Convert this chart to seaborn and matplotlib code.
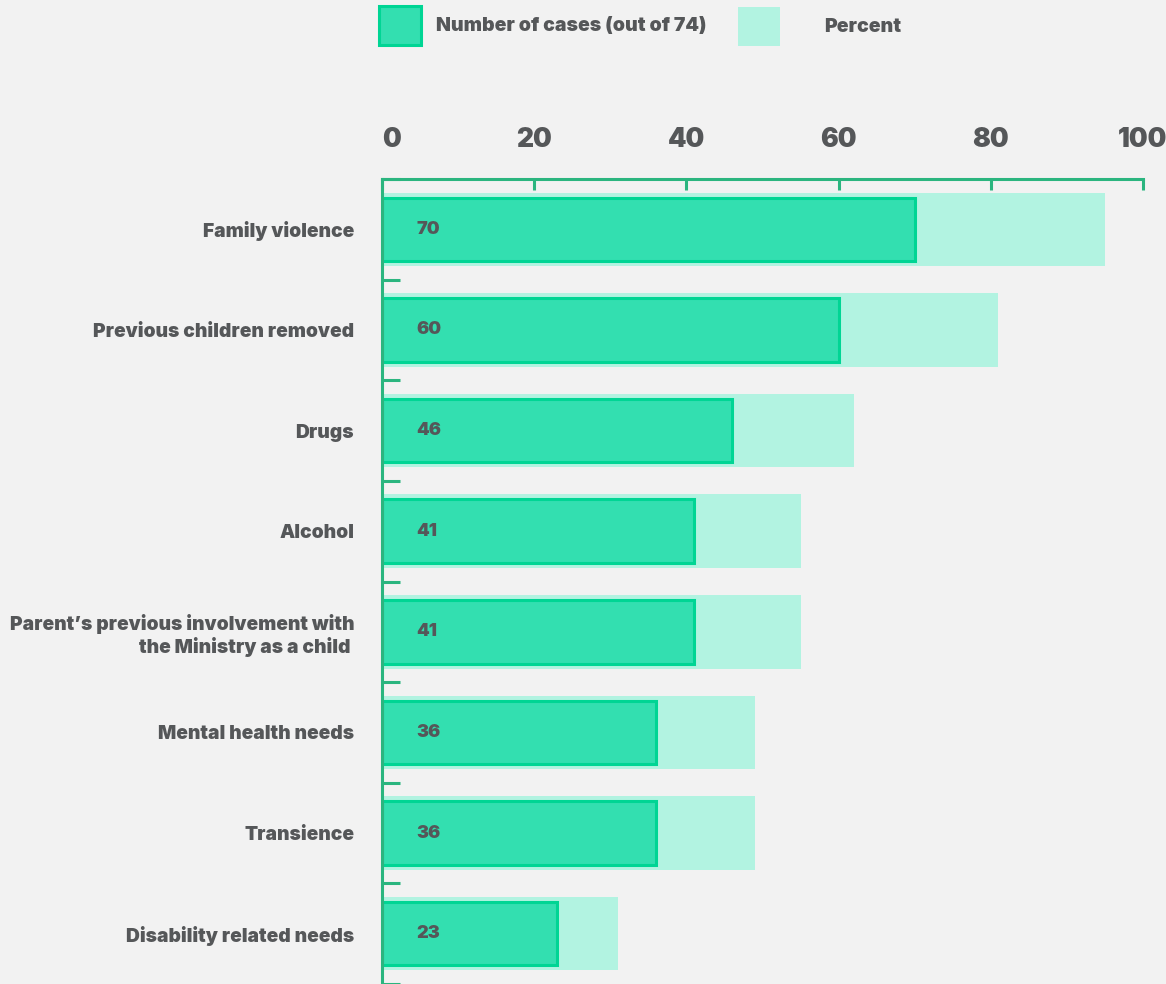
import matplotlib
matplotlib.use("Agg")
import matplotlib.pyplot as plt
from matplotlib.patches import Patch
import seaborn as sns
import pandas as pd

categories = [
    "Family violence",
    "Previous children removed",
    "Drugs",
    "Alcohol",
    "Parent\u2019s previous involvement with\nthe Ministry as a child ",
    "Mental health needs",
    "Transience",
    "Disability related needs",
]
cases = [70, 60, 46, 41, 41, 36, 36, 23]
percent = [95, 81, 62, 55, 55, 49, 49, 31]
x_ticks = [0, 20, 40, 60, 80, 100]
legend_labels = ["Number of cases (out of 74)", "Percent"]

BG = "#f2f2f2"
DARK = "#33dfb0"
EDGE = "#00d594"
LIGHT = "#b2f3e1"
AXIS = "#2bb57f"
TEXT = "#555759"
W = 900

sns.set_style("white")
plt.rcParams["font.family"] = ["Inter", "DejaVu Sans"]

df = pd.DataFrame({"category": categories, "cases": cases, "percent": percent})

fig = plt.figure(figsize=(11.66, 9.84), dpi=100, facecolor=BG)
ax = fig.add_axes([382 / 1166, 0, 761 / 1166, 1 - 179 / 984])
ax.set_facecolor(BG)

sns.barplot(data=df, x="percent", y="category", orient="h", color=LIGHT,
            saturation=1, width=0.73, ax=ax, linewidth=0)
sns.barplot(data=df, x="cases", y="category", orient="h", color=DARK,
            saturation=1, width=0.63, ax=ax, edgecolor=EDGE, linewidth=2.2)

for i, v in enumerate(cases):
    ax.annotate(str(v), xy=(0, i), xytext=(25, 0), textcoords="offset points",
                ha="left", va="center", fontsize=13, fontweight=W, color=TEXT)

ax.set_xlim(0, 100)
ax.set_ylim(len(categories) - 0.5, -0.5)
ax.set_xlabel("")
ax.set_ylabel("")

for s in ["right", "bottom"]:
    ax.spines[s].set_visible(False)
for s in ["left", "top"]:
    ax.spines[s].set_color(AXIS)
    ax.spines[s].set_linewidth(2.2)

ax.xaxis.tick_top()
ax.set_xticks(x_ticks)
ax.set_xticklabels([str(t) for t in x_ticks])
ax.set_xticks([100], minor=True)
ax.tick_params(axis="x", which="major", top=True, direction="in", length=8,
               width=2.2, color=AXIS, pad=19, labelsize=19, labelcolor=TEXT)
ax.tick_params(axis="x", which="minor", top=True, direction="in", length=14,
               width=2.2, color=AXIS)
for lab in ax.get_xticklabels():
    lab.set_fontweight(W)
ax.get_xticklabels()[0].set_horizontalalignment("left")

ax.set_yticks(range(len(categories)))
ax.set_yticklabels(categories)
ax.set_yticks([i - 0.5 for i in range(len(categories) + 1)], minor=True)
ax.tick_params(axis="y", which="major", left=True, length=0, pad=20, labelsize=13.8,
               labelcolor=TEXT)
ax.tick_params(axis="y", which="minor", left=True, direction="in", length=13,
               width=2.2, color=AXIS)
for lab in ax.get_yticklabels():
    lab.set_fontweight(W)

handles = [Patch(facecolor=DARK, edgecolor=EDGE, linewidth=2.2),
           Patch(facecolor=LIGHT, edgecolor=LIGHT, linewidth=0)]
anchors = [(379 / 1166, 1 - 6 / 984), (738 / 1166, 1 - 7 / 984)]
pads = [0.8, 2.3]
for h, lab, anc, pad in zip(handles, legend_labels, anchors, pads):
    leg = fig.legend(handles=[h], labels=[lab], loc="upper left",
                     bbox_to_anchor=anc, frameon=False,
                     handlelength=2.15, handleheight=2.7, handletextpad=pad,
                     borderpad=0, borderaxespad=0,
                     prop={"size": 14, "weight": W})
    for t in leg.get_texts():
        t.set_color(TEXT)

fig.savefig("out.png", dpi=100, facecolor=BG)
